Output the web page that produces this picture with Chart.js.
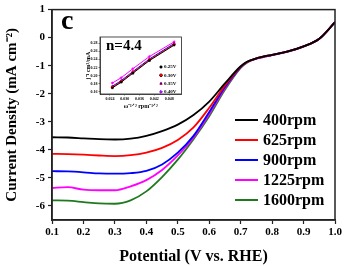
<!DOCTYPE html>
<html>
<head>
<meta charset="utf-8">
<script src="https://cdn.jsdelivr.net/npm/chart.js@4.4.1/dist/chart.umd.min.js"></script>
<style>
html, body { margin: 0; padding: 0; background: #fff; }
#wrap { position: relative; width: 345px; height: 266px; }
#main { position: absolute; left: 0; top: 0; }
#inset { position: absolute; left: 78px; top: 30px; }
</style>
</head>
<body>
<div id="wrap">
<canvas id="main" width="345" height="266"></canvas>
<canvas id="inset" width="108" height="80"></canvas>
</div>
<script>
// LSV-Kurven (Potential in V vs. RHE, Stromdichte in mA cm-2)
var potential = [0.1, 0.15, 0.2, 0.25, 0.3, 0.35, 0.4, 0.45, 0.5, 0.55, 0.6, 0.65, 0.7, 0.72, 0.75, 0.8, 0.85, 0.9, 0.95, 1.0];
var rpm400  = [-3.55, -3.56, -3.59, -3.62, -3.63, -3.6, -3.5, -3.33, -3.1, -2.76, -2.28, -1.63, -1.02, -0.86, -0.74, -0.61, -0.49, -0.31, -0.04, 0.55];
var rpm625  = [-4.14, -4.15, -4.17, -4.2, -4.22, -4.19, -4.1, -3.93, -3.65, -3.2, -2.5, -1.7, -1.04, -0.87, -0.74, -0.61, -0.49, -0.31, -0.04, 0.55];
var rpm900  = [-4.76, -4.77, -4.8, -4.84, -4.85, -4.83, -4.75, -4.52, -4.1, -3.5, -2.65, -1.76, -1.05, -0.87, -0.74, -0.61, -0.49, -0.31, -0.04, 0.55];
var rpm1225 = [-5.36, -5.33, -5.42, -5.44, -5.44, -5.3, -5.08, -4.72, -4.2, -3.56, -2.72, -1.8, -1.06, -0.88, -0.75, -0.62, -0.5, -0.31, -0.04, 0.55];
var rpm1600 = [-5.8, -5.81, -5.86, -5.91, -5.92, -5.8, -5.48, -4.97, -4.35, -3.62, -2.8, -1.86, -1.08, -0.89, -0.75, -0.62, -0.5, -0.32, -0.04, 0.54];
var rpmLabels = ['400rpm', '625rpm', '900rpm', '1225rpm', '1600rpm'];
var rpmColors = ['#000000', '#ff0000', '#0000ff', '#ff00ff', '#1f7a1f'];
var xTicks = [0.1, 0.2, 0.3, 0.4, 0.5, 0.6, 0.7, 0.8, 0.9, 1.0];
var yTicks = [-6, -5, -4, -3, -2, -1, 0, 1];

// Inset: K-L Auftragung
var omega = [0.025, 0.0286, 0.0333, 0.04, 0.05];
var inv025 = [0.170, 0.184, 0.206, 0.237, 0.275];
var inv030 = [0.172, 0.186, 0.208, 0.239, 0.277];
var inv035 = [0.174, 0.188, 0.210, 0.241, 0.279];
var inv040 = [0.182, 0.195, 0.217, 0.247, 0.283];
var klLabels = ['0.25V', '0.30V', '0.35V', '0.40V'];
var klColors = ['#000000', '#ff0000', '#0000ff', '#ff00ff'];
var klMarkers = ['rect', 'circle', 'triangle', 'rectRot'];
var insetXTicks = [0.024, 0.030, 0.036, 0.042, 0.048];
var insetYTicks = [0.16, 0.18, 0.20, 0.22, 0.24, 0.26, 0.28];

var SERIF = "'Liberation Serif', 'Times New Roman', serif";

function toPoints(xs, ys) {
    return xs.map(function(x, i) { return { x: x, y: ys[i] }; });
}

// Rahmen um die Plotfläche
const framePlugin = {
    id: 'frame',
    afterDraw: function(chart, args, opts) {
        var a = chart.chartArea, ctx = chart.ctx;
        ctx.save();
        ctx.strokeStyle = '#222';
        ctx.lineWidth = opts.width || 1.5;
        ctx.strokeRect(a.left, a.top, a.right - a.left, a.bottom - a.top);
        ctx.restore();
    }
};

// Legende + Buchstabe "c" im Hauptdiagramm
const mainDecor = {
    id: 'mainDecor',
    afterDraw: function(chart) {
        var ctx = chart.ctx;
        ctx.save();
        ctx.fillStyle = '#000';
        ctx.font = 'bold 28px ' + SERIF;
        ctx.textBaseline = 'alphabetic';
        ctx.fillText('c', 61, 29);
        ctx.font = 'bold 16px ' + SERIF;
        ctx.textBaseline = 'middle';
        chart.data.datasets.forEach(function(ds, i) {
            var y = 120 + i * 20;
            ctx.strokeStyle = ds.borderColor;
            ctx.lineWidth = 2;
            ctx.beginPath();
            ctx.moveTo(235, y);
            ctx.lineTo(258, y);
            ctx.stroke();
            ctx.fillText(ds.label, 263, y + 1);
        });
        ctx.restore();
    }
};

var mainSeries = [rpm400, rpm625, rpm900, rpm1225, rpm1600];

new Chart(document.getElementById('main'), {
    type: 'line',
    data: {
        datasets: mainSeries.map(function(s, i) {
            return {
                label: rpmLabels[i],
                data: toPoints(potential, s),
                borderColor: rpmColors[i],
                borderWidth: 1.8,
                pointRadius: 0,
                cubicInterpolationMode: 'monotone',
                fill: false
            };
        })
    },
    options: {
        responsive: false,
        animation: false,
        layout: { padding: { left: 0, right: 10, top: 9, bottom: 0 } },
        plugins: { legend: { display: false }, tooltip: { enabled: false }, frame: { width: 1.5 } },
        scales: {
            x: {
                type: 'linear',
                min: 0.1,
                max: 1.0,
                afterBuildTicks: function(scale) { scale.ticks = xTicks.map(function(v) { return { value: v }; }); },
                afterFit: function(scale) { scale.height = 46; },
                grid: { drawOnChartArea: false, tickLength: 4, tickWidth: 1.2, tickColor: '#222' },
                border: { display: true, color: '#222', width: 1.5 },
                ticks: {
                    color: '#000',
                    padding: 2,
                    maxRotation: 0,
                    font: { family: SERIF, size: 11, weight: 'bold' },
                    callback: function(v) { return v.toFixed(1); }
                },
                title: {
                    display: true,
                    text: 'Potential (V vs. RHE)',
                    color: '#000',
                    padding: 0,
                    font: { family: SERIF, size: 16, weight: 'bold' }
                }
            },
            y: {
                type: 'linear',
                min: -6.5,
                max: 1,
                afterBuildTicks: function(scale) { scale.ticks = yTicks.map(function(v) { return { value: v }; }); },
                afterFit: function(scale) { scale.width = 52; },
                grid: { drawOnChartArea: false, tickLength: 4, tickWidth: 1.2, tickColor: '#222' },
                border: { display: true, color: '#222', width: 1.5 },
                ticks: {
                    color: '#000',
                    padding: 3,
                    font: { family: SERIF, size: 11, weight: 'bold' }
                },
                title: {
                    display: true,
                    text: 'Current Density (mA cm\u207B\u00B2)',
                    color: '#000',
                    padding: { top: 3, bottom: 0 },
                    font: { family: SERIF, size: 15, weight: 'bold' }
                }
            }
        }
    },
    plugins: [framePlugin, mainDecor]
});

// Inset: Hintergrund, n-Wert und kleine Legende
const insetDecor = {
    id: 'insetDecor',
    beforeDraw: function(chart) {
        var ctx = chart.ctx;
        ctx.save();
        ctx.fillStyle = '#fff';
        ctx.fillRect(0, 0, chart.width, chart.height);
        ctx.restore();
    },
    afterDraw: function(chart) {
        var ctx = chart.ctx;
        ctx.save();
        ctx.fillStyle = '#000';
        ctx.font = 'bold 15px ' + SERIF;
        ctx.textBaseline = 'alphabetic';
        ctx.fillText('n=4.4', 28, 20);
        ctx.font = 'bold 5px ' + SERIF;
        ctx.textBaseline = 'middle';
        var sets = chart.data.datasets;
        sets.forEach(function(ds, i) {
            var y = 37 + i * 8.3;
            Chart.helpers.drawPoint(ctx, { pointStyle: ds.pointStyle, radius: 1.3, borderWidth: 0.5, rotation: 0 }, 83, y);
            ctx.fillStyle = ds.borderColor;
            ctx.strokeStyle = ds.borderColor;
            ctx.fill();
            ctx.fillStyle = '#000';
            ctx.fillText(ds.label, 86, y);
        });
        ctx.restore();
    }
};

var klSeries = [inv025, inv030, inv035, inv040];

new Chart(document.getElementById('inset'), {
    type: 'scatter',
    data: {
        datasets: klSeries.map(function(s, i) {
            return {
                label: klLabels[i],
                data: toPoints(omega, s),
                showLine: true,
                borderColor: klColors[i],
                backgroundColor: klColors[i],
                borderWidth: 1,
                pointStyle: klMarkers[i],
                pointRadius: 1.3,
                pointBorderWidth: 0.5
            };
        })
    },
    options: {
        responsive: false,
        animation: false,
        layout: { padding: { left: 0, right: 4, top: 7, bottom: 0 } },
        plugins: { legend: { display: false }, tooltip: { enabled: false }, frame: { width: 0.8 } },
        scales: {
            x: {
                type: 'linear',
                min: 0.020,
                max: 0.053,
                afterBuildTicks: function(scale) { scale.ticks = insetXTicks.map(function(v) { return { value: v }; }); },
                afterFit: function(scale) { scale.height = 16; },
                grid: { drawOnChartArea: false, tickLength: 1.5, tickWidth: 0.6, tickColor: '#333' },
                border: { display: true, color: '#333', width: 0.8 },
                ticks: {
                    color: '#000',
                    padding: 1,
                    maxRotation: 0,
                    font: { family: SERIF, size: 4, weight: 'bold' },
                    callback: function(v) { return v.toFixed(3); }
                },
                title: {
                    display: true,
                    text: '\u03C9\u207B\u00B9\u141F\u00B2 rpm\u207B\u00B9\u141F\u00B2',
                    color: '#000',
                    padding: 0,
                    font: { family: SERIF, size: 6, weight: 'bold' }
                }
            },
            y: {
                type: 'linear',
                min: 0.155,
                max: 0.295,
                afterBuildTicks: function(scale) { scale.ticks = insetYTicks.map(function(v) { return { value: v }; }); },
                afterFit: function(scale) { scale.width = 22; },
                grid: { drawOnChartArea: false, tickLength: 1.5, tickWidth: 0.6, tickColor: '#333' },
                border: { display: true, color: '#333', width: 0.8 },
                ticks: {
                    color: '#000',
                    padding: 1,
                    font: { family: SERIF, size: 4, weight: 'bold' },
                    callback: function(v) { return v.toFixed(2); }
                },
                title: {
                    display: true,
                    text: 'j\u207B\u00B9 cm\u00B2/mA',
                    color: '#000',
                    padding: { top: 7, bottom: 0 },
                    font: { family: SERIF, size: 6, weight: 'bold' }
                }
            }
        }
    },
    plugins: [framePlugin, insetDecor]
});
</script>
</body>
</html>
